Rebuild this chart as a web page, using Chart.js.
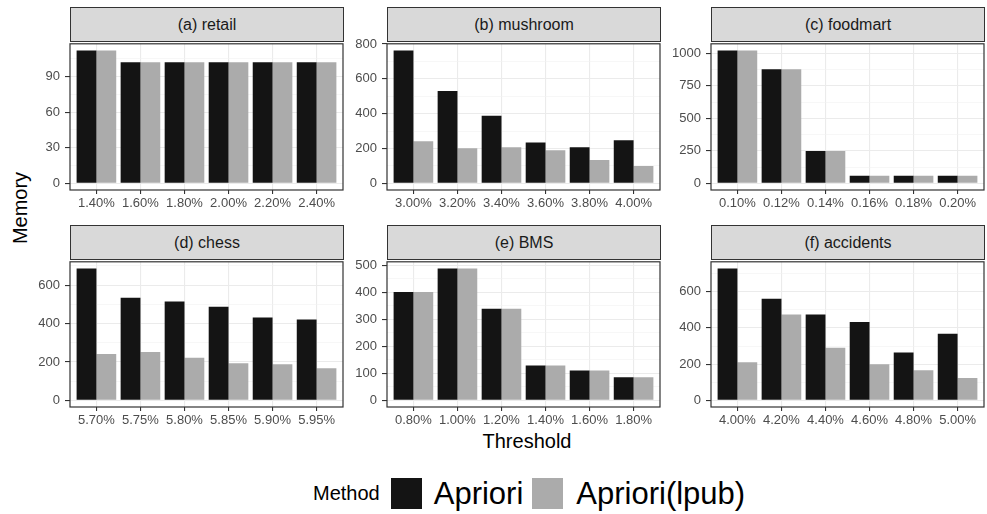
<!DOCTYPE html>
<html>
<head>
<meta charset="utf-8">
<script src="https://cdn.jsdelivr.net/npm/chart.js@4.4.1/dist/chart.umd.min.js"></script>
<style>
  body { margin: 0; background: #fff; width: 987px; height: 514px; position: relative; overflow: hidden;
         font-family: "Liberation Sans", Arial, sans-serif; }
  canvas { position: absolute; }
  .strip { position: absolute; box-sizing: border-box; background: #d9d9d9; border: 1.2px solid #333;
           color: #1a1a1a; font-size: 16px; display: flex; align-items: center; justify-content: center; }
  .ytitle { position: absolute; left: 20px; top: 208px; font-size: 20px; color: #000;
            transform: translate(-50%, -50%) rotate(-90deg); white-space: nowrap; }
  .xtitle { position: absolute; left: 527px; top: 441px; font-size: 20px; color: #000;
            transform: translate(-50%, -50%); white-space: nowrap; }
  .legend { position: absolute; left: 313px; top: 478px; height: 31px; display: flex; align-items: center; color: #000; }
  .legend .key { width: 31px; height: 31px; }
</style>
</head>
<body>
<div class="ytitle">Memory</div>
<div class="xtitle">Threshold</div>
<div class="legend">
  <span style="font-size:20px;margin-right:11px">Method</span>
  <span class="key" style="background:#141414"></span>
  <span style="font-size:31px;margin:0 9px 0 12px">Apriori</span>
  <span class="key" style="background:#ababab"></span>
  <span style="font-size:31px;margin-left:13px">Apriori(lpub)</span>
</div>
<script>
// ---- data ----
const retailThresholds = ['1.40%', '1.60%', '1.80%', '2.00%', '2.20%', '2.40%'];
const retailApriori = [112, 102, 102, 102, 102, 102];
const retailLpub = [112, 102, 102, 102, 102, 102];
const retailTicks = [0, 30, 60, 90];

const mushroomThresholds = ['3.00%', '3.20%', '3.40%', '3.60%', '3.80%', '4.00%'];
const mushroomApriori = [763, 530, 388, 235, 207, 247];
const mushroomLpub = [241, 201, 207, 190, 134, 100];
const mushroomTicks = [0, 200, 400, 600, 800];

const foodmartThresholds = ['0.10%', '0.12%', '0.14%', '0.16%', '0.18%', '0.20%'];
const foodmartApriori = [1023, 879, 249, 59, 59, 59];
const foodmartLpub = [1023, 879, 249, 59, 59, 59];
const foodmartTicks = [0, 250, 500, 750, 1000];

const chessThresholds = ['5.70%', '5.75%', '5.80%', '5.85%', '5.90%', '5.95%'];
const chessApriori = [687, 534, 515, 488, 431, 421];
const chessLpub = [242, 252, 222, 193, 188, 167];
const chessTicks = [0, 200, 400, 600];

const bmsThresholds = ['0.80%', '1.00%', '1.20%', '1.40%', '1.60%', '1.80%'];
const bmsApriori = [401, 488, 339, 129, 111, 86];
const bmsLpub = [401, 488, 339, 129, 111, 86];
const bmsTicks = [0, 100, 200, 300, 400, 500];

const accidentsThresholds = ['4.00%', '4.20%', '4.40%', '4.60%', '4.80%', '5.00%'];
const accidentsApriori = [728, 561, 474, 432, 264, 367];
const accidentsLpub = [210, 474, 291, 199, 166, 123];
const accidentsTicks = [0, 200, 400, 600];

const panels = [
  { title: '(a) retail', labels: retailThresholds, a: retailApriori, b: retailLpub, ticks: retailTicks },
  { title: '(b) mushroom', labels: mushroomThresholds, a: mushroomApriori, b: mushroomLpub, ticks: mushroomTicks },
  { title: '(c) foodmart', labels: foodmartThresholds, a: foodmartApriori, b: foodmartLpub, ticks: foodmartTicks },
  { title: '(d) chess', labels: chessThresholds, a: chessApriori, b: chessLpub, ticks: chessTicks },
  { title: '(e) BMS', labels: bmsThresholds, a: bmsApriori, b: bmsLpub, ticks: bmsTicks },
  { title: '(f) accidents', labels: accidentsThresholds, a: accidentsApriori, b: accidentsLpub, ticks: accidentsTicks }
];

// ---- layout ----
const colLeft = [70, 387, 711];
const plotW = 273;
const rows = [
  { strip: 7, top: 41, bottom: 190 },
  { strip: 225, top: 259, bottom: 407 }
];
const AXIS_W = 64, PAD = 10, X_H = 30;

Chart.defaults.font.family = '"Liberation Sans", Arial, sans-serif';
Chart.defaults.font.size = 13;
Chart.defaults.color = '#4d4d4d';

const panelBorder = {
  id: 'panelBorder',
  afterDraw(chart) {
    const { ctx, chartArea: a } = chart;
    ctx.save();
    ctx.strokeStyle = '#333';
    ctx.lineWidth = 1.2;
    ctx.strokeRect(a.left, a.top, a.right - a.left, a.bottom - a.top);
    ctx.restore();
  }
};

panels.forEach((p, i) => {
  const col = colLeft[i % 3];
  const row = rows[Math.floor(i / 3)];
  const plotH = row.bottom - row.top;

  const strip = document.createElement('div');
  strip.className = 'strip';
  strip.textContent = p.title;
  strip.style.left = col + 'px';
  strip.style.top = row.strip + 'px';
  strip.style.width = (plotW + 1) + 'px';
  strip.style.height = (row.top - row.strip + 1) + 'px';
  document.body.appendChild(strip);

  const canvas = document.createElement('canvas');
  canvas.width = AXIS_W + plotW + PAD;
  canvas.height = PAD + plotH + X_H;
  canvas.style.left = (col - AXIS_W) + 'px';
  canvas.style.top = (row.top - PAD) + 'px';
  document.body.appendChild(canvas);

  const top = Math.max(...p.a, ...p.b);
  const yMin = -0.05 * top, yMax = 1.05 * top;
  const step = p.ticks[1] - p.ticks[0];
  const majors = new Set(p.ticks);
  const yValues = [];
  for (let v = 0; v <= yMax; v += step / 2) yValues.push(v);
  const xValues = p.labels.map((_, k) => k);

  new Chart(canvas.getContext('2d'), {
    type: 'bar',
    data: {
      datasets: [
        { label: 'Apriori', data: p.a.map((v, k) => ({ x: k, y: v })), backgroundColor: '#141414', borderWidth: 0 },
        { label: 'Apriori(lpub)', data: p.b.map((v, k) => ({ x: k, y: v })), backgroundColor: '#ababab', borderWidth: 0 }
      ]
    },
    options: {
      responsive: false,
      animation: false,
      devicePixelRatio: 1,
      layout: { padding: { top: PAD, right: PAD, left: 0, bottom: 0 } },
      datasets: { bar: { categoryPercentage: 0.9, barPercentage: 1.0 } },
      plugins: { legend: { display: false }, tooltip: { enabled: false } },
      scales: {
        x: {
          type: 'linear',
          min: -0.6,
          max: p.labels.length - 0.4,
          offset: false,
          afterBuildTicks: s => { s.ticks = xValues.map(v => ({ value: v })); },
          afterFit: s => { s.height = X_H; },
          border: { display: false },
          grid: { offset: false, color: '#ebebeb', lineWidth: 1.1, tickLength: 4, tickColor: '#333', tickWidth: 1.1 },
          ticks: { autoSkip: false, maxRotation: 0, padding: 2, color: '#4d4d4d', callback: v => p.labels[v] }
        },
        y: {
          min: yMin,
          max: yMax,
          afterBuildTicks: s => { s.ticks = yValues.map(v => ({ value: v })); },
          afterFit: s => { s.width = AXIS_W; },
          border: { display: false },
          grid: {
            color: c => majors.has(c.tick.value) ? '#ebebeb' : '#f2f2f2',
            lineWidth: c => majors.has(c.tick.value) ? 1.1 : 0.6,
            tickLength: 5,
            tickWidth: 1.1,
            tickColor: c => majors.has(c.tick.value) ? '#333' : 'rgba(0,0,0,0)'
          },
          ticks: { autoSkip: false, padding: 5, color: '#4d4d4d', callback: v => majors.has(v) ? String(v) : '' }
        }
      }
    },
    plugins: [panelBorder]
  });
});
</script>
</body>
</html>
